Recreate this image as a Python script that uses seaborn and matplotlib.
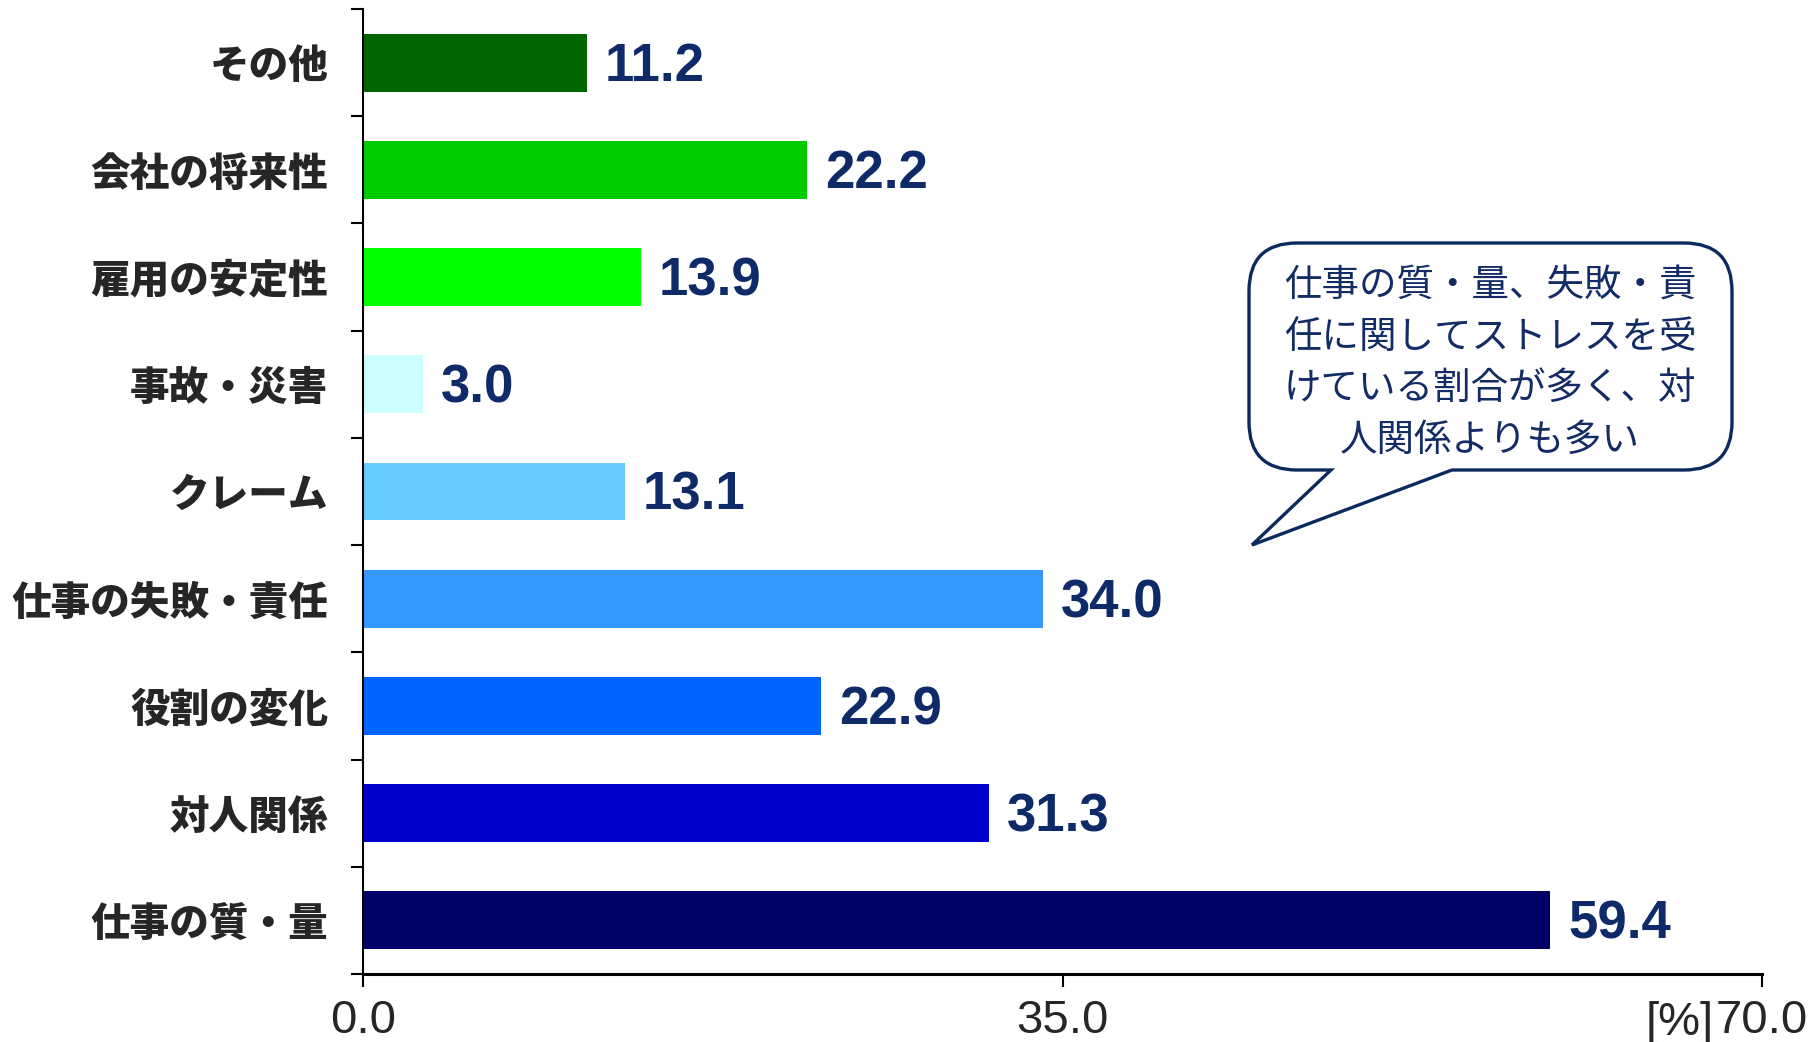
import numpy as np
import pandas as pd
import matplotlib
matplotlib.use("Agg")
import matplotlib.pyplot as plt
from matplotlib import font_manager as fm
from matplotlib.path import Path
from matplotlib.patches import PathPatch
import matplotlib.transforms as mtransforms
import seaborn as sns

# ---- data ----
categories = ["その他", "会社の将来性", "雇用の安定性", "事故・災害", "クレーム",
              "仕事の失敗・責任", "役割の変化", "対人関係", "仕事の質・量"]
values = [11.2, 22.2, 13.9, 3.0, 13.1, 34.0, 22.9, 31.3, 59.4]
bar_colors = ["#006600", "#00CC00", "#00FF00", "#CCFFFF", "#66CCFF",
              "#3399FF", "#0066FF", "#0000CC", "#000066"]
xticks = [0, 35, 70]
xtick_labels = ["0.0", "35.0", "70.0"]
unit_label = "[%]"
callout_text = "仕事の質・量、失敗・責\n任に関してストレスを受\nけている割合が多く、対\n人関係よりも多い"

sns.set_style("white")
plt.rcParams['font.family'] = ['Noto Sans CJK JP', 'DejaVu Sans']

names = {f.name for f in fm.fontManager.ttflist}
if 'Liberation Sans Narrow' in names:
    num_font, val_size, tick_size = 'Liberation Sans Narrow', 42, 38
else:
    num_font, val_size, tick_size = 'Liberation Sans', 38, 34

W, H = 1818, 1042
fig = plt.figure(figsize=(W / 100, H / 100), dpi=100)
ax = fig.add_axes([363 / W, 1 - 974 / H, (1762 - 363) / W, (974 - 9) / H])

df = pd.DataFrame({"cat": categories, "val": values})
sns.barplot(data=df, x="val", y="cat", hue="cat", palette=bar_colors,
            order=categories, hue_order=categories, orient="h",
            width=0.54, legend=False, ax=ax, saturation=1, edgecolor="none")

navy = "#0E2A68"
for i, v in enumerate(values):
    ax.text(v + 0.9, i + 0.04, f"{v:.1f}", va="center", ha="left", color=navy,
            fontsize=val_size, fontweight="bold", family=[num_font, 'DejaVu Sans'])

ax.set_xlim(0, 70)
ax.set_ylim(len(categories) - 0.5, -0.5)
ax.set_xlabel("")
ax.set_ylabel("")

ax.set_xticks(xticks)
ax.set_xticklabels(xtick_labels, fontsize=tick_size, family=[num_font, 'DejaVu Sans'])
ax.tick_params(axis="x", which="major", direction="out", length=9, width=1.5,
               color="black", pad=9, bottom=True)

ax.set_yticks(range(len(categories)))
ax.set_yticklabels(categories, fontsize=28.5, fontweight="heavy")
ax.tick_params(axis="y", which="major", length=0, pad=25, left=True)
ax.set_yticks(np.arange(-0.5, len(categories), 1), minor=True)
ax.tick_params(axis="y", which="minor", direction="out", length=9, width=1.5,
               color="black", left=True)

for s in ["top", "right"]:
    ax.spines[s].set_visible(False)
ax.spines["left"].set_linewidth(1.5)
ax.spines["bottom"].set_linewidth(2.2)
ax.spines["left"].set_color("black")
ax.spines["bottom"].set_color("black")

ax.annotate(unit_label, xy=(70, 0), xycoords=("data", "axes fraction"),
            xytext=(-35, -35), textcoords="offset points", ha="right", va="center",
            fontsize=tick_size, family=[num_font, 'DejaVu Sans'])

# ---- callout bubble (figure pixel coordinates, y down) ----
L, R, T, B, r = 1249, 1732, 243, 470, 48
tail_r, tail_l, tip = (1452, B), (1331, B), (1252, 545)
verts = [(L + r, T), (R - r, T), (R, T), (R, T + r), (R, B - r), (R, B), (R - r, B),
         tail_r, tip, tail_l, (L + r, B), (L, B), (L, B - r), (L, T + r), (L, T), (L + r, T),
         (L + r, T)]
codes = [Path.MOVETO, Path.LINETO, Path.CURVE3, Path.CURVE3, Path.LINETO, Path.CURVE3,
         Path.CURVE3, Path.LINETO, Path.LINETO, Path.LINETO, Path.LINETO, Path.CURVE3,
         Path.CURVE3, Path.LINETO, Path.CURVE3, Path.CURVE3, Path.CLOSEPOLY]
px2fig = mtransforms.Affine2D().scale(1 / W, -1 / H).translate(0, 1) + fig.transFigure
bubble = PathPatch(Path(verts, codes), facecolor="white", edgecolor="#0B2A5E",
                   linewidth=2.4, transform=px2fig, zorder=5)
fig.patches.append(bubble)
fig.text(1490 / W, 1 - 363 / H, callout_text, ha="center", va="center",
         multialignment="center", fontsize=27, color="#132C66", linespacing=1.42,
         zorder=6)

fig.savefig("out.png", dpi=100, facecolor="white")
